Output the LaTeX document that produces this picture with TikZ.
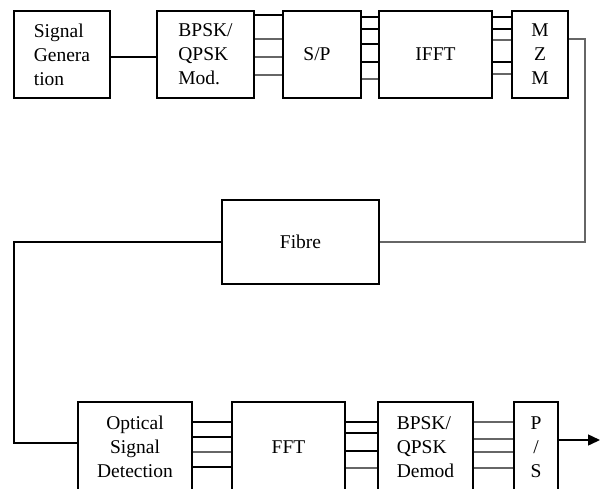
\documentclass[tikz,border=0pt]{standalone}
\usepackage{fontspec}
\setmainfont{Liberation Serif}
\usetikzlibrary{arrows.meta,positioning,calc}

\tikzset{
  block/.style={draw, line width=1.7pt, inner sep=0pt, minimum height=87pt},
  lowblock/.style={block, minimum height=90pt},
  wire/.style={line width=1.5pt},
  faint/.style={line width=1.2pt, black!60}
}

\begin{document}
\begin{tikzpicture}[x=1pt, y=-1pt, font=\fontsize{19.5}{24}\selectfont]
        \clip (0,0) rectangle (600,488);
        % transmitter row
        \node[block, minimum width=96pt, align=left] (gen) at (62,54.5) {Signal\\Genera\\tion};
        \node[block, minimum width=97pt, align=left] (mod) at (205.5,54.5) {BPSK/\\QPSK\\Mod.};
        \node[block, minimum width=78pt] (sp) at (322,54.5) {\hspace{-10pt}S/P};
        \node[block, minimum width=113pt] (ifft) at (435.5,54.5) {IFFT};
        \node[block, minimum width=56pt, align=center] (mzm) at (540,54.5) {M\\Z\\M};
        % channel
        \node[block, minimum width=157pt, minimum height=84pt] (fibre) at (300.5,242) {Fibre};
        % receiver row
        \node[lowblock, minimum width=114pt, align=center] (osd) at (135,447) {Optical\\Signal\\Detection};
        \node[lowblock, minimum width=113pt] (fft) at (288.5,447) {FFT};
        \node[lowblock, minimum width=95pt, align=left] (demod) at (425.5,447) {BPSK/\\QPSK\\Demod};
        \node[lowblock, minimum width=44pt, align=center] (ps) at (536,447) {P\\/\\S};
        \coordinate (out) at (600,440);

        \draw[wire] (gen.east |- 0,57) -- (mod.west |- 0,57);
        \draw[wire] (mod.east |- 0,15) -- (sp.west |- 0,15);
        \foreach \y in {39,57,75}
            \draw[faint] (mod.east |- 0,\y) -- (sp.west |- 0,\y);
        \foreach \y in {17,29,44,62}
            \draw[wire] (sp.east |- 0,\y) -- (ifft.west |- 0,\y);
        \draw[faint] (sp.east |- 0,79) -- (ifft.west |- 0,79);
        \foreach \y in {17,29,62}
            \draw[wire] (ifft.east |- 0,\y) -- (mzm.west |- 0,\y);
        \foreach \y in {40,74}
            \draw[faint] (ifft.east |- 0,\y) -- (mzm.west |- 0,\y);

        \draw[faint, line width=1.5pt] (mzm.east |- 0,39) -| (fibre.east -| 585,0) -- (fibre.east);
        \draw[wire] (fibre.west) -| (14,443) -- (osd.west |- 0,443);

        \foreach \y in {422,437,467}
            \draw[wire] (osd.east |- 0,\y) -- (fft.west |- 0,\y);
        \draw[faint] (osd.east |- 0,452) -- (fft.west |- 0,452);
        \foreach \y in {422,433,451}
            \draw[wire] (fft.east |- 0,\y) -- (demod.west |- 0,\y);
        \draw[faint] (fft.east |- 0,468) -- (demod.west |- 0,468);
        \foreach \y in {422,439,452,468}
            \draw[faint, line width=1.4pt] (demod.east |- 0,\y) -- (ps.west |- 0,\y);
        \draw[wire, -{Triangle[length=12pt, width=11pt]}] (ps.east |- out) -- (out);
\end{tikzpicture}
\end{document}
